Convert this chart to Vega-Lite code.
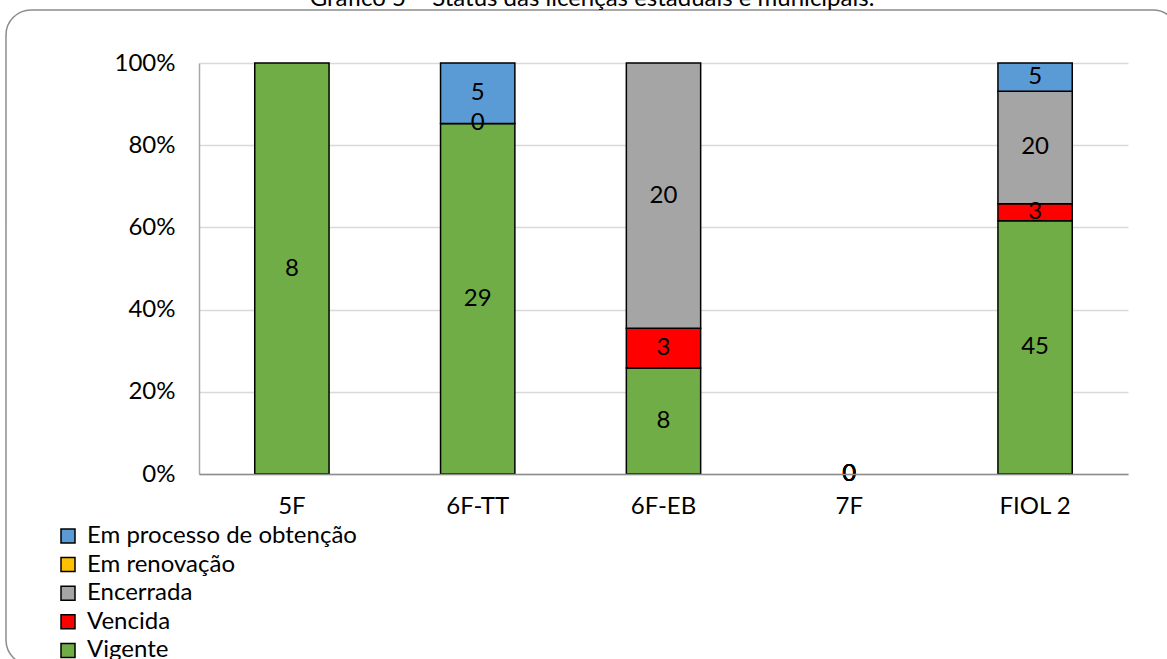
{
  "$schema": "https://vega.github.io/schema/vega-lite/v6.json",
  "autosize": {"type": "none"},
  "padding": {"left": 6, "top": 10, "right": 0, "bottom": 0},
  "width": 1172,
  "height": 655,
  "background": "white",
  "title": {
    "text": "Gráfico 5 – Status das licenças estaduais e municipais.",
    "anchor": "middle",
    "frame": "group",
    "baseline": "alphabetic",
    "offset": -20,
    "font": "Lato",
    "fontSize": 24,
    "fontWeight": "normal",
    "color": "#000000"
  },
  "config": {
    "font": "Lato",
    "view": {"stroke": "#8C8C8C", "strokeWidth": 1.5, "cornerRadius": 25, "fill": null}
  },
  "data": {
    "values": [
      {"trecho": "5F", "status": "Vigente", "licencas": 8},
      {"trecho": "6F-TT", "status": "Vigente", "licencas": 29},
      {"trecho": "6F-TT", "status": "Em renovação", "licencas": 0},
      {"trecho": "6F-TT", "status": "Em processo de obtenção", "licencas": 5},
      {"trecho": "6F-EB", "status": "Vigente", "licencas": 8},
      {"trecho": "6F-EB", "status": "Vencida", "licencas": 3},
      {"trecho": "6F-EB", "status": "Encerrada", "licencas": 20},
      {"trecho": "7F", "status": "Vigente", "licencas": 0},
      {"trecho": "7F", "status": "Vencida", "licencas": 0},
      {"trecho": "7F", "status": "Encerrada", "licencas": 0},
      {"trecho": "7F", "status": "Em renovação", "licencas": 0},
      {"trecho": "7F", "status": "Em processo de obtenção", "licencas": 0},
      {"trecho": "FIOL 2", "status": "Vigente", "licencas": 45},
      {"trecho": "FIOL 2", "status": "Vencida", "licencas": 3},
      {"trecho": "FIOL 2", "status": "Encerrada", "licencas": 20},
      {"trecho": "FIOL 2", "status": "Em processo de obtenção", "licencas": 5}
    ]
  },
  "transform": [
    {"joinaggregate": [{"op": "sum", "field": "licencas", "as": "total"}], "groupby": ["trecho"]}
  ],
  "encoding": {
    "x": {
      "field": "trecho",
      "type": "nominal",
      "sort": ["5F", "6F-TT", "6F-EB", "7F", "FIOL 2"],
      "scale": {"domain": ["5F", "6F-TT", "6F-EB", "7F", "FIOL 2"], "range": [193, 1122], "paddingInner": 0.6, "paddingOuter": 0.3},
      "axis": {
        "title": null,
        "labelAngle": 0,
        "ticks": false,
        "tickSize": 0,
        "offset": -191,
        "labelPadding": 20,
        "labelFont": "Lato",
        "labelFontSize": 24,
        "labelColor": "#000000",
        "domainColor": "#8C8C8C",
        "domainWidth": 1.5,
        "grid": false,
        "zindex": 1
      }
    }
  },
  "layer": [
    {
      "transform": [{"filter": "datum.total > 0"}],
      "mark": {"type": "bar", "stroke": "#000000", "strokeWidth": 1.5},
      "encoding": {
        "y": {
          "field": "licencas",
          "type": "quantitative",
          "stack": "normalize",
          "scale": {"domain": [0, 1], "range": [464, 53]},
          "axis": {
            "title": null,
            "values": [0, 0.2, 0.4, 0.6, 0.8, 1],
            "format": ".0%",
            "offset": -193,
            "ticks": false,
            "tickSize": 0,
            "labelPadding": 24,
            "labelFont": "Lato",
            "labelFontSize": 24,
            "labelColor": "#000000",
            "domainColor": "#A6A6A6",
            "domainWidth": 1.5,
            "grid": true,
            "gridColor": "#D9D9D9",
            "gridWidth": 1.5
          }
        },
        "color": {
          "field": "status",
          "type": "nominal",
          "scale": {
            "domain": ["Em processo de obtenção", "Em renovação", "Encerrada", "Vencida", "Vigente"],
            "range": ["#5B9BD5", "#FFC000", "#A5A5A5", "#FF0000", "#70AD47"]
          },
          "legend": {
            "orient": "none",
            "legendX": 50,
            "legendY": 514,
            "title": null,
            "padding": 0,
            "symbolType": "square",
            "symbolSize": 196,
            "symbolStrokeColor": "#000000",
            "symbolStrokeWidth": 1.5,
            "symbolOpacity": 1,
            "labelFont": "Lato",
            "labelFontSize": 24,
            "labelColor": "#000000",
            "labelOffset": 7,
            "labelLimit": 0,
            "rowPadding": 4.6
          }
        },
        "order": {"field": "status", "sort": "descending"}
      }
    },
    {
      "transform": [{"filter": "datum.total > 0"}],
      "mark": {"type": "text", "font": "Lato", "fontSize": 24, "color": "#000000", "baseline": "middle"},
      "encoding": {
        "y": {"field": "licencas", "type": "quantitative", "stack": "normalize", "bandPosition": 0.5},
        "text": {"field": "licencas", "type": "quantitative"},
        "order": {"field": "status", "sort": "descending"},
        "detail": {"field": "status"}
      }
    },
    {
      "transform": [{"filter": "datum.total === 0"}],
      "mark": {"type": "text", "font": "Lato", "fontSize": 24, "color": "#000000", "baseline": "middle"},
      "encoding": {
        "y": {"datum": 0},
        "text": {"field": "licencas", "type": "quantitative"}
      }
    }
  ]
}
